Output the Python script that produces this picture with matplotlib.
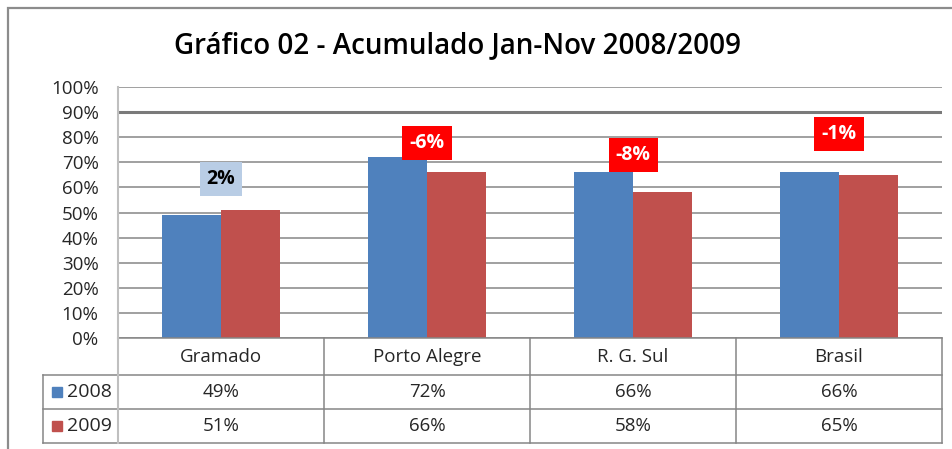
import matplotlib
matplotlib.use("Agg")
import matplotlib.pyplot as plt
from matplotlib.lines import Line2D
from matplotlib.patches import Rectangle
from matplotlib.transforms import blended_transform_factory
import numpy as np

# data
categories = ["Gramado", "Porto Alegre", "R. G. Sul", "Brasil"]
series_names = ["2008", "2009"]
vals_2008 = [49, 72, 66, 66]
vals_2009 = [51, 66, 58, 65]
change_labels = ["2%", "-6%", "-8%", "-1%"]
yticks = list(range(0, 101, 10))

# layout / style
W, H = 952, 449
label_y = [63.5, 77.8, 73.0, 81.3]   # where the change boxes sit (percent)
box_colors = ["#B9CDE5", "#FF0000", "#FF0000", "#FF0000"]
box_text = ["black", "white", "white", "white"]
c08, c09 = "#4F81BD", "#C0504D"
grid_c = "#868686"
txt_c = "#262626"
font = "Open Sans"

def fx(px):
    return px / W

def fy(py):
    return 1 - py / H

plt.rcParams["font.family"] = [font, "DejaVu Sans"]
fig = plt.figure(figsize=(W / 100, H / 100), dpi=100)

# outer frame (right/bottom cut off in the original)
fig.add_artist(Rectangle((fx(8), fy(470)), fx(1000), fy(8) - fy(470),
                         transform=fig.transFigure, fill=False, ec="#8C8C8C", lw=1.6))

ax = fig.add_axes([fx(118), fy(338), fx(942) - fx(118), fy(87) - fy(338)])
x = np.arange(len(categories))
w = 1 / 3.5
ax.bar(x - w / 2, vals_2008, w, color=c08, zorder=3)
ax.bar(x + w / 2, vals_2009, w, color=c09, zorder=3)
ax.set_xlim(-0.5, len(categories) - 0.5)
ax.set_ylim(0, 100)
ax.set_yticks(yticks)
ax.set_yticklabels([f"{t}%" for t in yticks], fontsize=13.5, color=txt_c)
ax.set_xticks([])
ax.tick_params(axis="y", length=0, pad=14)
ax.yaxis.grid(True, color=grid_c, lw=1.1, zorder=0)
for t, gl in zip(yticks, ax.get_ygridlines()):
    if t == 90:
        gl.set_linewidth(2.2)
        gl.set_color("#7A7A7A")
for s in ["top", "right", "bottom"]:
    ax.spines[s].set_visible(False)
ax.spines["left"].set_color("#BFBFBF")
ax.spines["left"].set_linewidth(1.5)

# change boxes
for i, lab in enumerate(change_labels):
    ax.text(x[i], label_y[i], lab, ha="center", va="center", fontsize=14,
            fontweight="bold", color=box_text[i], zorder=5,
            bbox=dict(boxstyle="square,pad=0.36", fc=box_colors[i], ec="none"))

fig.text(fx(458), fy(46), "Gráfico 02 - Acumulado Jan-Nov 2008/2009",
         ha="center", va="center", fontsize=20, fontweight="semibold")

# data table under the chart
tr = blended_transform_factory(ax.transData, fig.transFigure)
rows_y = [338, 375, 409, 443]
leg_left = -0.5 - 75 / 206
line_kw = dict(transform=tr, color=grid_c, lw=1.1, clip_on=False)
right = len(categories) - 0.5
fig.add_artist(Line2D([-0.5, right], [fy(rows_y[0])] * 2, **line_kw))
for yy in rows_y[1:]:
    fig.add_artist(Line2D([leg_left, right], [fy(yy)] * 2, **line_kw))
for b in np.arange(len(categories) + 1) - 0.5:
    fig.add_artist(Line2D([b, b], [fy(rows_y[0]), fy(rows_y[-1])], **line_kw))
fig.add_artist(Line2D([leg_left, leg_left], [fy(rows_y[1]), fy(rows_y[-1])], **line_kw))
fig.add_artist(Line2D([-0.5, -0.5], [fy(rows_y[0]), fy(rows_y[-1])],
                      transform=tr, color="#BFBFBF", lw=1.5, clip_on=False))

mid = lambda i: fy((rows_y[i] + rows_y[i + 1]) / 2)
for i, cat in enumerate(categories):
    fig.text(x[i], mid(0), cat, transform=tr, ha="center", va="center", fontsize=13.5, color=txt_c)
    fig.text(x[i], mid(1), f"{vals_2008[i]}%", transform=tr, ha="center", va="center", fontsize=13.5, color=txt_c)
    fig.text(x[i], mid(2), f"{vals_2009[i]}%", transform=tr, ha="center", va="center", fontsize=13.5, color=txt_c)

for r, (name, col) in enumerate(zip(series_names, [c08, c09])):
    yc = (rows_y[r + 1] + rows_y[r + 2]) / 2
    fig.add_artist(Rectangle((fx(52), fy(yc + 5)), fx(10), fy(yc - 5) - fy(yc + 5),
                             transform=fig.transFigure, color=col))
    fig.text(fx(67), fy(yc), name, ha="left", va="center", fontsize=14, color=txt_c)

fig.savefig("out.png", dpi=100)
